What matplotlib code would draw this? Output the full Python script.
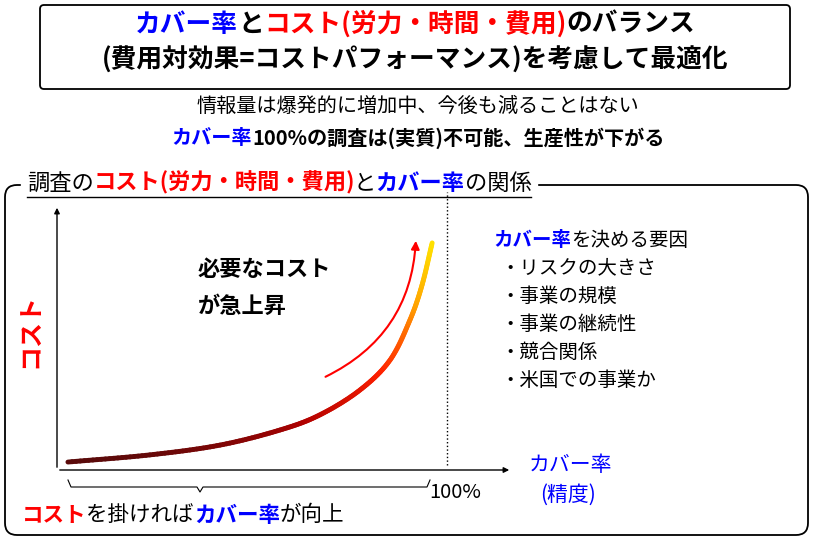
import matplotlib
matplotlib.use("Agg")
import matplotlib.pyplot as plt
import numpy as np
from matplotlib.patches import FancyBboxPatch, FancyArrowPatch
from matplotlib.collections import LineCollection
from matplotlib.colors import LinearSegmentedColormap

plt.rcParams['font.family'] = ['Noto Sans CJK JP', 'DejaVu Sans']
BLUE, RED = '#0000ff', '#ff0000'

coverage = [2.8, 23.8, 41.8, 57.2, 67.4, 77.7, 85.4, 90.5, 93.6, 96.2]
cost = [3, 5.7, 9.4, 15.1, 20.8, 30.2, 41.5, 56.6, 69.8, 85.7]
factors = ["・リスクの大きさ", "・事業の規模", "・事業の継続性", "・競合関係", "・米国での事業か"]

fig = plt.figure(figsize=(8.14, 5.41), dpi=100)
ax = fig.add_axes([0, 0, 1, 1])
ax.set_xlim(0, 814); ax.set_ylim(541, 0); ax.axis('off')
fig.canvas.draw()
r = fig.canvas.get_renderer()

def rich(x, y, parts, size, weight='normal', ha='left', underline=False, bg=None):
    texts = []
    cx = x
    for s, c in parts:
        t = ax.text(cx, y, s, color=c, fontsize=size, fontweight=weight, va='center', ha='left', zorder=5)
        bb = t.get_window_extent(r)
        cx += bb.width * 814 / fig.bbox.width
        texts.append(t)
    total = cx - x
    if ha == 'center':
        for t in texts:
            t.set_x(t.get_position()[0] - total / 2)
    x0 = x - total / 2 if ha == 'center' else x
    if underline:
        ax.plot([x0, x0 + total], [y + 14, y + 14], color='black', lw=1, zorder=5)
    if bg:
        ax.add_patch(plt.Rectangle((x0 - 6, y - 16), total + 12, 34, color=bg, zorder=4))
    return total

def catmull(px, py, n=20):
    P = np.array([px, py]).T
    P = np.vstack([2 * P[0] - P[1], P, 2 * P[-1] - P[-2]])
    out = []
    for i in range(1, len(P) - 2):
        p0, p1, p2, p3 = P[i - 1], P[i], P[i + 1], P[i + 2]
        for t in np.linspace(0, 1, n, endpoint=False):
            out.append(0.5 * ((2 * p1) + (-p0 + p2) * t + (2 * p0 - 5 * p1 + 4 * p2 - p3) * t ** 2
                              + (-p0 + 3 * p1 - 3 * p2 + p3) * t ** 3))
    out.append(P[-2])
    return np.array(out)

# Top box
ax.add_patch(FancyBboxPatch((40, 5), 750, 84, boxstyle="round,pad=0,rounding_size=4",
                            fc='white', ec='black', lw=1.3))
rich(415, 24, [("カバー率", BLUE), ("と", 'black'), ("コスト(労力・時間・費用)", RED), ("のバランス", 'black')], 18.5, 'bold', ha='center')
rich(415, 60, [("(費用対効果=コストパフォーマンス)を考慮して最適化", 'black')], 18.5, 'bold', ha='center')
rich(418, 106, [("情報量は爆発的に増加中、今後も減ることはない", 'black')], 14.5, ha='center')
rich(418, 138, [("カバー率", BLUE), ("100%の調査は(実質)不可能、生産性が下がる", 'black')], 14.5, 'bold', ha='center')

# Big box
ax.add_patch(FancyBboxPatch((5, 185), 803, 350, boxstyle="round,pad=0,rounding_size=12",
                            fc='white', ec='black', lw=1.3))
rich(27, 183, [("調査の", 'black'), ("コスト(労力・時間・費用)", RED), ("と", 'black'), ("カバー率", BLUE), ("の関係", 'black')],
     16, underline=True, bg='white')
# bold pieces in header
for t in ax.texts[-5:]:
    if t.get_color() in (RED, BLUE):
        t.set_fontweight('bold')

ia = fig.add_axes([57 / 814, 1 - 470 / 541, (512 - 57) / 814, (470 - 205) / 541])
ia.set_xlim(0, (512 - 57) / (447 - 57) * 100); ia.set_ylim(0, 100)
ia.axis('off')
ia.patch.set_alpha(0)
ia.annotate('', xy=(0, 100), xytext=(0, 0), arrowprops=dict(arrowstyle='-|>', color='black', lw=1, mutation_scale=8))
ia.annotate('', xy=(ia.get_xlim()[1], 0), xytext=(0, 0), arrowprops=dict(arrowstyle='-|>', color='black', lw=1, mutation_scale=8))
ia.plot([100, 100], [2, 105], color='black', ls=':', lw=1, clip_on=False)

C = catmull(coverage, cost)
pts = C.reshape(-1, 1, 2)
segs = np.concatenate([pts[:-1], pts[1:]], axis=1)
cmap = LinearSegmentedColormap.from_list('c', ['#5a0a0a', '#b00000', '#ff2000', '#ffa000', '#ffe000'])
lc = LineCollection(segs, cmap=cmap, linewidth=3.5, capstyle='round')
lc.set_array(np.linspace(0, 1, len(segs)) ** 1.5)
ia.add_collection(lc)

ax.add_patch(FancyArrowPatch((323, 378), (416, 238), connectionstyle="arc3,rad=0.3",
                             arrowstyle='-|>', mutation_scale=12, color=RED, lw=1.5))

ax.text(198, 270, "必要なコスト", fontsize=16, fontweight='bold', va='center')
ax.text(198, 306, "が急上昇", fontsize=16, fontweight='bold', va='center')
ax.text(30, 330, "コスト", fontsize=18, fontweight='bold', color=RED, rotation=90, ha='center', va='center')
ax.text(570, 465, "カバー率", fontsize=15, color=BLUE, ha='center', va='center')
ax.text(568, 495, "(精度)", fontsize=15, color=BLUE, ha='center', va='center')
ax.text(455, 492, "100%", fontsize=14.5, ha='center', va='center')

bx0, bx1, bmid, by = 68, 430, 200, 480
ax.plot([bx0, bx0 + 3, bmid - 3, bmid, bmid + 3, bx1 - 3, bx1],
        [by, by + 7, by + 7, by + 12, by + 7, by + 7, by], color='black', lw=0.8)
rich(22, 515, [("コスト", RED), ("を掛ければ", 'black'), ("カバー率", BLUE), ("が向上", 'black')], 15.5)
for t in ax.texts[-4:]:
    if t.get_color() in (RED, BLUE):
        t.set_fontweight('bold')

rich(493, 241, [("カバー率", BLUE), ("を決める要因", 'black')], 14)
ax.texts[-2].set_fontweight('bold')
for i, f in enumerate(factors):
    ax.text(500, 268 + i * 28, f, fontsize=14, va='center')

fig.savefig("out.png", dpi=100)
